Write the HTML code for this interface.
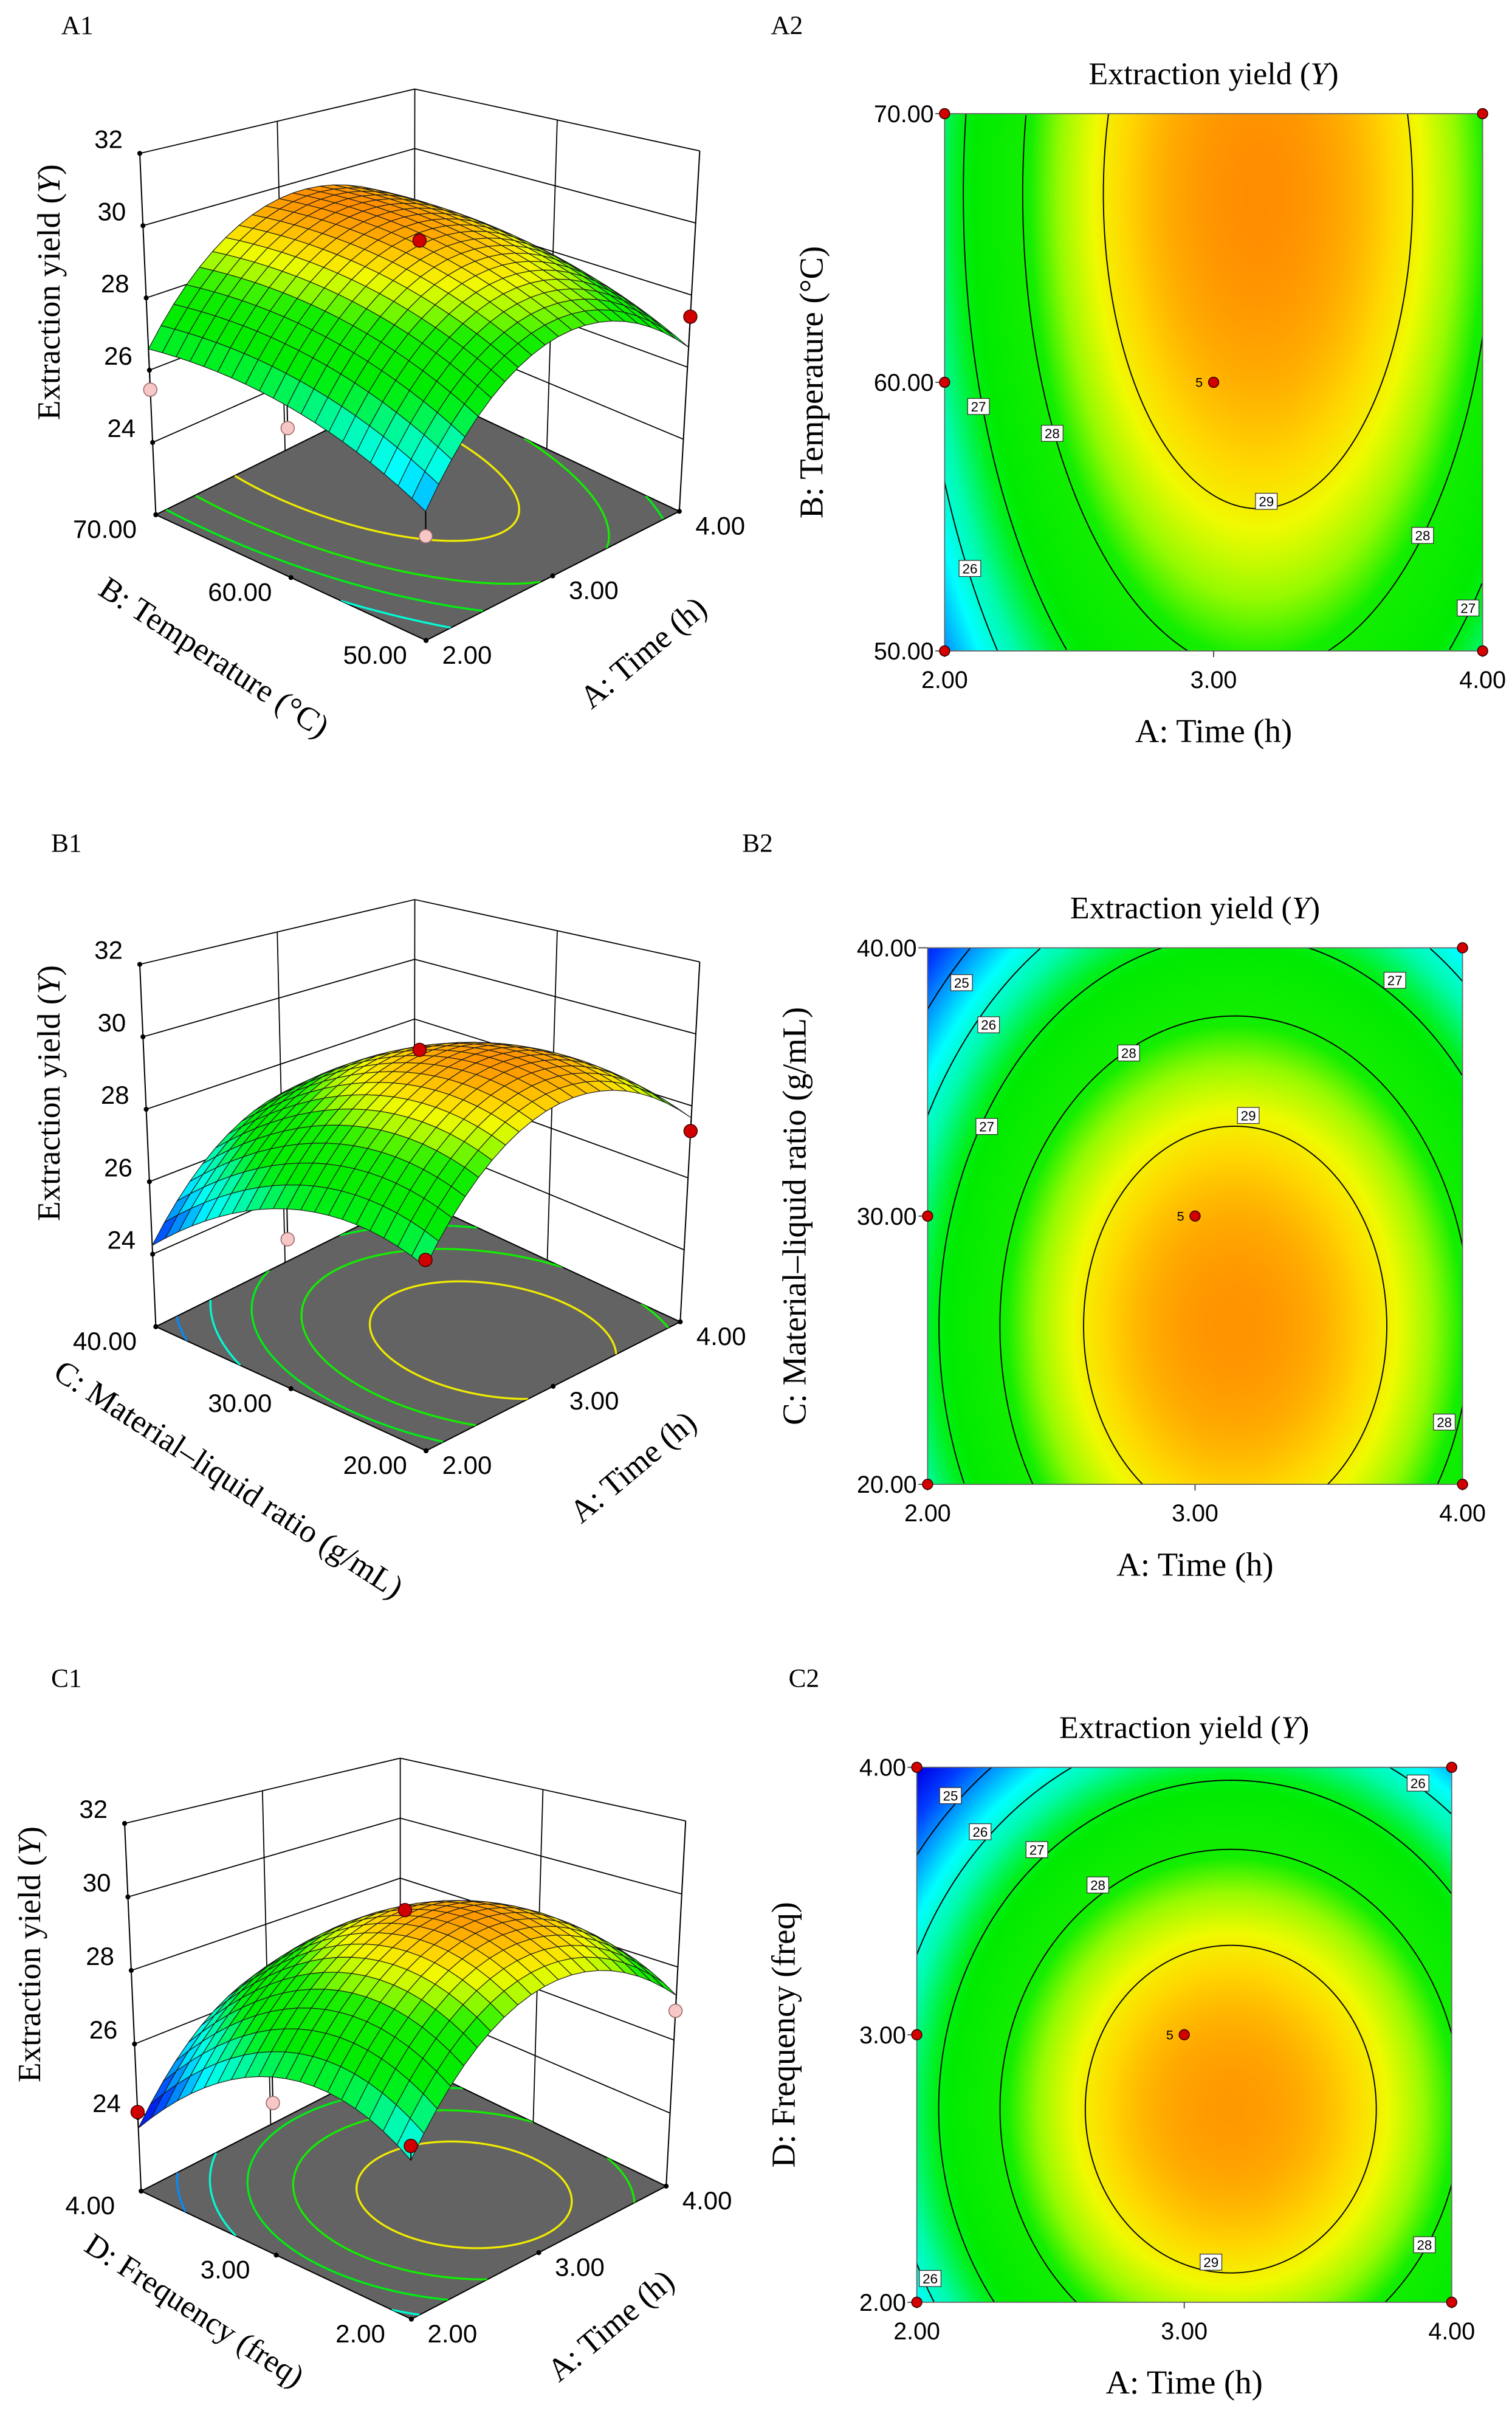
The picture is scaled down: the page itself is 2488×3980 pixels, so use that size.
<!DOCTYPE html>
<html><head><meta charset="utf-8">
<style>
html,body{margin:0;padding:0;background:#fff;overflow:hidden;}
#root{position:relative;width:2488px;height:3980px;background:#fff;overflow:hidden;}
canvas{position:absolute;}
svg{position:absolute;left:0;top:0;overflow:hidden;}
</style></head>
<body>
<div id="root">
<canvas id="heat0"></canvas>
<canvas id="heat1"></canvas>
<canvas id="heat2"></canvas>
<svg id="svg" width="2488" height="3980" viewBox="0 0 978 1564.5" preserveAspectRatio="none"></svg>
</div>
<script>
// ---------- model data (coded units, one entry per factor pair: A-B, A-C, A-D) ----------
const peakYield   = [29.76, 29.71, 29.66];
const centerA     = [0.165, 0.15, 0.174];
const centerOther = [0.7, -0.41, -0.278];
const curvA       = [2.3, 2.21, 2.23];
const curvOther   = [0.555, 1.28, 1.76];
const contourLevels = [25, 26, 27, 28, 29];
const zTicks = [24, 26, 28, 30, 32];
const xTickLabels = ["2.00", "3.00", "4.00"];
const yTickLabelsA2 = ["50.00", "60.00", "70.00"];
const yTickLabelsB2 = ["20.00", "30.00", "40.00"];
const yTickLabelsC2 = ["2.00", "3.00", "4.00"];
const codedTicks = [-1, 0, 1];
// design points (2D)
const dp2_u = [[-1,-1,1,1,-1,0],[1,-1,-1,1,0],[-1,1,-1,-1,1,0]];
const dp2_v = [[-1,1,1,-1,0,0],[1,0,-1,-1,0],[1,1,0,-1,-1,0]];
// design points (3D)
const dp3_u = [[0,1,-1,-1,-1],[0,1,-1,-1],[0,-1,-1,-1,1]];
const dp3_v = [[0,-1,1,0,-1],[0,-1,0,-1],[0,1,0,-1,-1]];
const dp3_z = [[29.55,27.4,25.46,25.8,24.45],[29.6,27.3,25.8,26.5],[29.6,24.15,25.8,26.0,26.8]];
const dp3_red = [[1,1,0,0,0],[1,1,0,1],[1,1,0,1,0]];
// contour label positions (level, coded u, coded v)
const lblLevel = [[27,28,29,26,28,27],[25,26,27,28,29,27,28],[25,26,27,28,26,28,29,26]];
const lblU = [[-0.874,-0.6,0.196,-0.906,0.777,0.946],[-0.873,-0.772,-0.779,-0.248,0.199,0.747,0.932],[-0.874,-0.763,-0.551,-0.323,0.874,0.898,0.1,-0.95]];
const lblV = [[-0.09,-0.19,-0.443,-0.693,-0.57,-0.84],[0.87,0.713,0.334,0.608,0.375,0.879,-0.768],[0.894,0.759,0.692,0.56,0.941,-0.785,-0.85,-0.911]];

function yieldAt(i,u,v){return peakYield[i]-curvA[i]*(u-centerA[i])**2-curvOther[i]*(v-centerOther[i])**2;}

const cStops=[[23.8,0,0,230],[24.5,0,60,255],[25.2,0,170,255],[25.7,0,255,255],[26.3,0,250,170],[26.9,0,240,30],[27.2,0,235,0],[28.1,20,238,0],[28.5,150,250,0],[28.9,240,250,0],[29.2,255,215,0],[29.5,255,172,0],[29.85,255,130,0]];
function cmap(y){
  if(y<=cStops[0][0])return [cStops[0][1],cStops[0][2],cStops[0][3]];
  for(let k=1;k<cStops.length;k++){if(y<=cStops[k][0]){const a=cStops[k-1],b=cStops[k];const f=(y-a[0])/(b[0]-a[0]);return [a[1]+(b[1]-a[1])*f,a[2]+(b[2]-a[2])*f,a[3]+(b[3]-a[3])*f];}}
  const l=cStops[cStops.length-1];return [l[1],l[2],l[3]];
}
function rgb(c){return 'rgb('+Math.round(c[0])+','+Math.round(c[1])+','+Math.round(c[2])+')';}

const NS='http://www.w3.org/2000/svg';
const svg=document.getElementById('svg');
const S=2488/978;
function mk(tag,attrs,parent){const e=document.createElementNS(NS,tag);for(const k in attrs)e.setAttribute(k,attrs[k]);(parent||svg).appendChild(e);return e;}
function txt(str,attrs,parent){const e=mk('text',attrs,parent);e.textContent=str;return e;}
const SERIF='"Liberation Serif", serif', SANS='"Liberation Sans", sans-serif';

// contour path restricted to the coded square [-1,1]^2
function contourPath(i,L,mapFn){
  const P=peakYield[i];if(L>=P)return null;
  const ru=Math.sqrt((P-L)/curvA[i]),rv=Math.sqrt((P-L)/curvOther[i]);
  let d='',open=false;const n=1440;
  for(let k=0;k<=n;k++){
    const t=k/n*2*Math.PI;const u=centerA[i]+ru*Math.cos(t),v=centerOther[i]+rv*Math.sin(t);
    if(u>=-1.001&&u<=1.001&&v>=-1.001&&v<=1.001){
      const q=mapFn(Math.max(-1,Math.min(1,u)),Math.max(-1,Math.min(1,v)));
      d+=(open?'L':'M')+q[0].toFixed(2)+','+q[1].toFixed(2);open=true;
    }else open=false;
  }
  return d||null;
}

// ---------- panel labels ----------
const panelNames=["A1","A2","B1","B2","C1","C2"];
const panelX=[50,509,43,490,43,520];
const panelY=[22,22,551,551,1091,1091];
for(let k=0;k<6;k++){
  const t=txt(panelNames[k],{x:panelX[k],y:panelY[k],'font-family':SERIF,'font-size':17,'text-anchor':'middle',fill:'#000'});
  
  
}

// ---------- 2D contour plots ----------
const boxes=[{x:611,y:73.5,w:348,h:347.5},{x:600,y:613,w:346,h:347},{x:593,y:1143,w:346,h:346}];
const yLabelSets=[yTickLabelsA2,yTickLabelsB2,yTickLabelsC2];
const yTitles=["B: Temperature (°C)","C: Material–liquid ratio (g/mL)","D: Frequency (freq)"];
const plotIds=["a2","b2","c2"];
boxes.forEach((b,i)=>{
  const px=u=>b.x+(u+1)/2*b.w, py=v=>b.y+(1-v)/2*b.h;
  const cv=document.getElementById('heat'+i);
  const W=Math.round(b.w*S),H=Math.round(b.h*S);
  cv.width=W;cv.height=H;cv.style.left=(b.x*S)+'px';cv.style.top=(b.y*S)+'px';
  const ctx=cv.getContext('2d');const img=ctx.createImageData(W,H);
  for(let yy=0;yy<H;yy++)for(let xx=0;xx<W;xx++){
    const u=-1+2*(xx+0.5)/W,v=1-2*(yy+0.5)/H;const c=cmap(yieldAt(i,u,v));const o=(yy*W+xx)*4;
    img.data[o]=c[0];img.data[o+1]=c[1];img.data[o+2]=c[2];img.data[o+3]=255;}
  ctx.putImageData(img,0,0);
  const g=mk('g',{});
  
  
  const cp=mk('clipPath',{id:'clip2d'+i},g);mk('rect',{x:b.x,y:b.y,width:b.w,height:b.h},cp);
  const cg=mk('g',{'clip-path':'url(#clip2d'+i+')'},g);
  contourLevels.forEach(L=>{
    const d=contourPath(i,L,(u,v)=>[px(u),py(v)]);if(!d)return;
    const c=mk('path',{d:d,fill:'none',stroke:'#000','stroke-width':0.75},cg);
    
    
  });
  const fr=mk('rect',{x:b.x,y:b.y,width:b.w,height:b.h,fill:'none',stroke:'#666','stroke-width':0.7},g);
  
  
  lblLevel[i].forEach((L,k)=>{
    const cx=px(lblU[i][k]),cy=py(lblV[i][k]);
    const lg=mk('g',{},g);
    
    
    mk('rect',{x:cx-7,y:cy-5.2,width:14,height:10.4,fill:'#fff',stroke:'#333','stroke-width':0.5},lg);
    txt(String(L),{x:cx,y:cy+3.2,'font-family':SANS,'font-size':8.8,'text-anchor':'middle',fill:'#000'},lg);
  });
  codedTicks.forEach((t,k)=>{
    mk('line',{x1:px(t),y1:b.y+b.h,x2:px(t),y2:b.y+b.h+4,stroke:'#444','stroke-width':0.7},g);
    const xl=txt(xTickLabels[k],{x:px(t),y:b.y+b.h+24,'font-family':SANS,'font-size':15.5,'text-anchor':'middle',fill:'#000'},g);
    
    
    mk('line',{x1:b.x-6,y1:py(t),x2:b.x,y2:py(t),stroke:'#444','stroke-width':0.7},g);
    const yl=txt(yLabelSets[i][k],{x:b.x-7,y:py(t)+5.5,'font-family':SANS,'font-size':15.5,'text-anchor':'end',fill:'#000'},g);
    
    
  });
  dp2_u[i].forEach((u,k)=>{
    const d=mk('circle',{cx:px(u),cy:py(dp2_v[i][k]),r:3.3,fill:'#d40000',stroke:'#300','stroke-width':0.6},g);
    
    
  });
  txt('5',{x:px(0)-7,y:py(0)+3,'font-family':SANS,'font-size':8.5,'text-anchor':'end',fill:'#000'},g);
  const tt=txt('',{x:b.x+b.w/2,y:b.y-19,'font-family':SERIF,'font-size':20.5,'text-anchor':'middle',fill:'#000'},g);
  tt.appendChild(document.createTextNode('Extraction yield ('));
  const it=mk('tspan',{'font-style':'italic'},tt);it.textContent='Y';
  tt.appendChild(document.createTextNode(')'));
  
  
  const xt=txt('A: Time (h)',{x:b.x+b.w/2,y:b.y+b.h+59,'font-family':SERIF,'font-size':21.5,'text-anchor':'middle',fill:'#000'},g);
  
  
  const ycx=b.x-79,ycy=b.y+b.h/2;
  const yt=txt(yTitles[i],{x:ycx,y:ycy,transform:'rotate(-90 '+ycx+' '+ycy+')','font-family':SERIF,'font-size':21.5,'text-anchor':'middle',fill:'#000'},g);
  
  
});

// ---------- 3D surface plots ----------
const geoms=[
 {F:[275.6,414.2],R:[439.4,330.7],L:[100.8,332.9],B:[268,250],tF:[274.7,139.2],tR:[452.6,97.6],tL:[90.4,99.2],tB:[268.3,57.6]},
 {F:[275.6,938.3],R:[440,854.9],L:[100.8,858],B:[268,775],tF:[274.7,664],tR:[452.6,622.1],tL:[90.4,623.7],tB:[268.3,581.8]},
 {F:[266.1,1499.9],R:[430.9,1413.9],L:[91.3,1417.1],B:[258.9,1331.1],tF:[265.2,1219.9],tR:[443.5,1177.7],tL:[80.6,1179.3],tB:[258.9,1137.1]}
];
const otherTickSets=[["50.00","60.00","70.00"],["20.00","30.00","40.00"],["2.00","3.00","4.00"]];
const otherTitles=["B: Temperature (°C)","C: Material–liquid ratio (g/mL)","D: Frequency (freq)"];
const otherTitlePos=[[138.6,425],[148,956.6],[126,1494]];
const timeTitlePos=[[416,422],[409.4,948.7],[395,1504]];
const yTitlePos=[[31.5,189],[31.5,707],[19,1264]];
const surfIds=["a1","b1","c1"];
geoms.forEach((G,i)=>{
  function bil(a,b,c,d,s,t){return [a[0]*(1-s)*(1-t)+b[0]*s*(1-t)+c[0]*(1-s)*t+d[0]*s*t,a[1]*(1-s)*(1-t)+b[1]*s*(1-t)+c[1]*(1-s)*t+d[1]*s*t];}
  function P(u,v,z){const s=(u+1)/2,t=(v+1)/2;const f=bil(G.F,G.R,G.L,G.B,s,t),c=bil(G.tF,G.tR,G.tL,G.tB,s,t);const w=(z-22)/10;return [f[0]+(c[0]-f[0])*w,f[1]+(c[1]-f[1])*w];}
  const pt=p=>p[0].toFixed(2)+','+p[1].toFixed(2);
  const g=mk('g',{});
  
  
  const wg=mk('g',{},g);
  
  
  zTicks.forEach(z=>{
    mk('line',{x1:P(-1,1,z)[0],y1:P(-1,1,z)[1],x2:P(1,1,z)[0],y2:P(1,1,z)[1],stroke:'#000','stroke-width':0.7},wg);
    mk('line',{x1:P(1,1,z)[0],y1:P(1,1,z)[1],x2:P(1,-1,z)[0],y2:P(1,-1,z)[1],stroke:'#000','stroke-width':0.7},wg);
  });
  [[0,1],[1,1],[1,0]].forEach(q=>{const a=P(q[0],q[1],22),b=P(q[0],q[1],32);mk('line',{x1:a[0],y1:a[1],x2:b[0],y2:b[1],stroke:'#000','stroke-width':0.7},wg);});
  [[-1,1],[1,-1]].forEach(q=>{const a=P(q[0],q[1],22),b=P(q[0],q[1],32);mk('line',{x1:a[0],y1:a[1],x2:b[0],y2:b[1],stroke:'#000','stroke-width':0.8},wg);});
  const fd='M'+pt(G.F)+'L'+pt(G.R)+'L'+pt(G.B)+'L'+pt(G.L)+'Z';
  const fl=mk('path',{d:fd,fill:'#636363',stroke:'#000','stroke-width':0.8},g);
  
  
  const cp=mk('clipPath',{id:'clipfl'+i},g);mk('path',{d:fd},cp);
  const cg=mk('g',{'clip-path':'url(#clipfl'+i+')'},g);
  contourLevels.forEach(L=>{
    const d=contourPath(i,L,(u,v)=>P(u,v,22));if(!d)return;
    const c=mk('path',{d:d,fill:'none',stroke:rgb(L>=29?[240,235,0]:cmap(L)),'stroke-width':1.3},cg);
    
    
  });
  codedTicks.forEach((t,k)=>{
    const a=P(t,-1,22);mk('circle',{cx:a[0],cy:a[1],r:1.6,fill:'#000'},g);
    const xl=txt(xTickLabels[k],{x:a[0]+26.5,y:a[1]+15,'font-family':SANS,'font-size':16.5,'text-anchor':'middle',fill:'#000'},g);
    
    
    const b2=P(-1,t,22);mk('circle',{cx:b2[0],cy:b2[1],r:1.6,fill:'#000'},g);
    const ol=txt(otherTickSets[i][k],{x:b2[0]-33,y:b2[1]+15,'font-family':SANS,'font-size':16.5,'text-anchor':'middle',fill:'#000'},g);
    
    
  });
  zTicks.concat([22]).forEach(z=>{const a=P(-1,1,z);mk('circle',{cx:a[0],cy:a[1],r:1.6,fill:'#000'},g);});
  zTicks.forEach(z=>{const a=P(-1,1,z);
    const zl=txt(String(z),{x:a[0]-11,y:a[1]-3.5,'font-family':SANS,'font-size':16.5,'text-anchor':'end',fill:'#000'},g);
    
    });
  const N=20,cells=[];
  for(let a=0;a<N;a++)for(let b=0;b<N;b++){const u0=-1+2*a/N,u1=-1+2*(a+1)/N,v0=-1+2*b/N,v1=-1+2*(b+1)/N;cells.push([u0,u1,v0,v1]);}
  cells.sort((p,q)=>(q[0]+q[2])-(p[0]+p[2]));
  const sg=mk('g',{},g);
  
  
  cells.forEach(c=>{
    const [u0,u1,v0,v1]=c;
    const q=[[u0,v0],[u1,v0],[u1,v1],[u0,v1]].map(p=>P(p[0],p[1],yieldAt(i,p[0],p[1])));
    const col=cmap(yieldAt(i,(u0+u1)/2,(v0+v1)/2));
    const cell=mk('path',{d:'M'+q.map(pt).join('L')+'Z',fill:rgb(col),stroke:'#1a1a1a','stroke-width':0.45,'stroke-linejoin':'round'},sg);
    
    
  });
  dp3_u[i].forEach((u,k)=>{
    const v=dp3_v[i][k],z=dp3_z[i][k];const a=P(u,v,z),s=P(u,v,yieldAt(i,u,v));
    mk('line',{x1:a[0],y1:a[1],x2:s[0],y2:s[1],stroke:'#000','stroke-width':0.8},g);
    const d=mk('circle',{cx:a[0],cy:a[1],r:4.3,fill:dp3_red[i][k]?'#d10000':'#f7c6c6',stroke:dp3_red[i][k]?'#400':'#966','stroke-width':0.6},g);
    
    
  });
  const tp=timeTitlePos[i];
  const at=txt('A: Time (h)',{x:tp[0],y:tp[1]+7,transform:'rotate(-40 '+tp[0]+' '+tp[1]+')','font-family':SERIF,'font-size':21,'text-anchor':'middle',fill:'#000'},g);
  
  
  const op=otherTitlePos[i];
  const ot=txt(otherTitles[i],{x:op[0],y:op[1]+7,transform:'rotate(33 '+op[0]+' '+op[1]+')','font-family':SERIF,'font-size':i===2?20.5:21,'text-anchor':'middle',fill:'#000'},g);
  
  
  const yp=yTitlePos[i];
  const yt=txt('',{x:yp[0],y:yp[1]+7,transform:'rotate(-90 '+yp[0]+' '+yp[1]+')','font-family':SERIF,'font-size':21,'text-anchor':'middle',fill:'#000'},g);
  yt.appendChild(document.createTextNode('Extraction yield ('));
  const it=mk('tspan',{'font-style':'italic'},yt);it.textContent='Y';
  yt.appendChild(document.createTextNode(')'));
  
  
});
</script>
</body></html>
